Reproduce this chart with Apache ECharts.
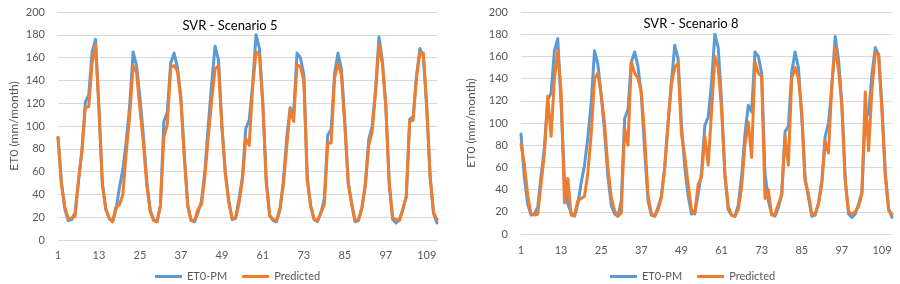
<!DOCTYPE html>
<html>
<head>
<meta charset="utf-8">
<script src="https://cdn.jsdelivr.net/npm/echarts@6/dist/echarts.min.js"></script>
<style>
html,body{margin:0;padding:0;background:#fff;}
#c{width:900px;height:284px;}
</style>
</head>
<body>
<div id="c"></div>
<script>
var categories = [1,2,3,4,5,6,7,8,9,10,11,12,13,14,15,16,17,18,19,20,21,22,23,24,25,26,27,28,29,30,
31,32,33,34,35,36,37,38,39,40,41,42,43,44,45,46,47,48,49,50,51,52,53,54,55,56,57,58,59,60,
61,62,63,64,65,66,67,68,69,70,71,72,73,74,75,76,77,78,79,80,81,82,83,84,85,86,87,88,89,90,
91,92,93,94,95,96,97,98,99,100,101,102,103,104,105,106,107,108,109,110,111,112];

var et0pm = [90,51,27,17,18,24,52,78,121,127,165,176,116,50,27,19,16,27,46,62,
87,118,165,153,125,92,52,26,18,16,30,104,112,155,164,151,125,75,30,17,
16,24,34,60,100,137,170,158,100,60,35,18,19,36,55,98,105,136,180,168,
120,52,22,17,16,26,52,90,116,110,164,160,145,55,30,18,16,24,36,92,
97,146,164,150,105,50,33,16,17,28,48,88,100,132,178,157,118,50,18,15,
18,27,38,106,108,144,168,161,115,55,23,15];

var predictedS5 = [90,49,29,19,19,21,52,78,116,117,155,171,114,48,27,19,16,29,31,40,
77,109,153,147,115,85,48,25,17,16,30,90,101,151,153,148,122,72,30,17,
17,27,31,55,90,122,150,153,100,58,33,19,19,32,52,89,83,134,165,162,
118,50,21,18,17,28,48,82,115,104,154,152,140,52,30,18,17,24,31,85,
85,142,155,145,100,50,31,17,18,28,48,83,95,129,171,155,118,50,19,18,
17,27,38,104,105,143,164,164,118,55,24,18];

var predictedS8 = [81,63,35,18,17,18,45,72,124,88,140,165,128,28,50,17,17,30,32,34,
55,90,140,145,125,100,60,33,21,16,19,95,80,155,145,140,128,88,35,18,
16,22,33,60,100,135,150,154,90,70,45,22,18,45,51,88,62,110,160,150,
112,55,25,17,16,22,42,80,101,69,155,145,142,32,40,17,18,27,35,88,
62,140,150,140,110,48,36,18,18,27,45,83,73,135,168,148,115,48,20,18,
20,25,36,128,75,130,163,162,110,52,21,18];

var yTicks = {min:0, max:200, interval:20};
var titles = ['SVR - Scenario 5', 'SVR - Scenario 8'];
var seriesNames = ['ET0-PM', 'Predicted'];
var yName = 'ET0 (mm/month)';

var FONT = 'Lato, "Open Sans", sans-serif';
var GREY = '#595959';
var BLUE = '#5B9BD5';
var ORANGE = '#ED7D31';

function xAxis(idx, margin){
  return {
    type:'category', gridIndex:idx, data:categories, boundaryGap:false,
    axisLine:{show:true, lineStyle:{color:'#D9D9D9', width:1}},
    axisTick:{show:false},
    axisLabel:{interval:11, color:GREY, fontSize:11, fontFamily:FONT, margin:margin},
    splitLine:{show:false}
  };
}
function yAxis(idx, gap){
  return {
    type:'value', gridIndex:idx, min:yTicks.min, max:yTicks.max, interval:yTicks.interval,
    name:yName, nameLocation:'middle', nameGap:gap, nameRotate:90,
    nameTextStyle:{color:GREY, fontSize:12, fontFamily:FONT},
    axisLine:{show:false}, axisTick:{show:false},
    axisLabel:{color:GREY, fontSize:11, fontFamily:FONT, margin:13},
    splitLine:{lineStyle:{color:'#D9D9D9', width:1}}
  };
}
function line(name, data, idx, color, z){
  return {
    name:name, type:'line', xAxisIndex:idx, yAxisIndex:idx, data:data,
    showSymbol:false, symbol:'none', smooth:false, z:z,
    lineStyle:{color:color, width:3, join:'round', cap:'round'}, itemStyle:{color:color},
    emphasis:{disabled:true}, animation:false
  };
}

var chart = echarts.init(document.getElementById('c'), null, {renderer:'canvas'});
chart.setOption({
  animation:false,
  backgroundColor:'#fff',
  title:[
    {text:titles[0], left:225, top:14, textAlign:'center',
     textStyle:{fontSize:13, fontWeight:'normal', color:'#000', fontFamily:FONT}},
    {text:titles[1], left:686, top:12, textAlign:'center',
     textStyle:{fontSize:13, fontWeight:'normal', color:'#000', fontFamily:FONT}}
  ],
  legend:[
    {data:seriesNames, left:150, top:266, icon:'rect', itemWidth:27, itemHeight:3, itemGap:15,
     textStyle:{color:GREY, fontSize:11, fontFamily:FONT}},
    {data:seriesNames, left:605, top:266, icon:'rect', itemWidth:27, itemHeight:3, itemGap:15,
     textStyle:{color:GREY, fontSize:11, fontFamily:FONT}}
  ],
  grid:[
    {left:58, top:12, width:379, height:228},
    {left:521, top:12, width:371, height:222}
  ],
  xAxis:[xAxis(0, 10), xAxis(1, 11)],
  yAxis:[yAxis(0, 38), yAxis(1, 44)],
  series:[
    line(seriesNames[0], et0pm, 0, BLUE, 2),
    line(seriesNames[1], predictedS5, 0, ORANGE, 3),
    line(seriesNames[0], et0pm, 1, BLUE, 2),
    line(seriesNames[1], predictedS8, 1, ORANGE, 3)
  ]
});
</script>
</body>
</html>
